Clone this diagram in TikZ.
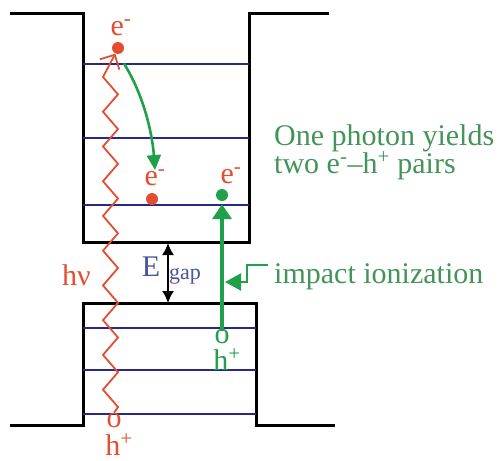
\documentclass[tikz,border=0pt]{standalone}
\usepackage{fontspec}
\setmainfont{Liberation Serif}
\usetikzlibrary{arrows.meta}
\definecolor{carrierred}{RGB}{228,78,48}
\definecolor{impactgreen}{RGB}{32,160,72}
\definecolor{labelgreen}{RGB}{66,148,88}
\definecolor{levelblue}{RGB}{40,40,135}
\definecolor{gapblue}{RGB}{75,85,150}

\begin{document}
\begin{tikzpicture}[
    x=1pt,y=-1pt,font=\fontsize{30}{34}\selectfont,
    edge/.style={line width=3pt,line join=miter},
    level/.style={levelblue,line width=2pt},
    dot/.style={circle,inner sep=0pt,minimum size=12pt},
    tag/.style={anchor=base,inner sep=0pt},
    photon/.style={carrierred,line width=1.8pt,line join=miter,
        -{Straight Barb[length=11pt,width=22pt,line width=1.8pt]}},
    relax/.style={impactgreen,line width=2.6pt,
        -{Triangle[length=15pt,width=14pt]}},
    ionize/.style={impactgreen,line width=4pt,
        -{Triangle[length=15pt,width=19pt]}},
    pointer/.style={impactgreen,line width=2.2pt,line join=miter,
        -{Triangle[length=16pt,width=17pt]}},
    gap/.style={line width=1.6pt,{Latex[length=12pt,width=12pt]}-{Latex[length=12pt,width=12pt]}}
]
    \useasboundingbox (0,0) rectangle (502,460);

    % band edges
    \draw[edge] (10,14) -- (83,14) -- (83,242) -- (249,242) -- (249,14) -- (329,14);
    \draw[edge] (10,425) -- (83,425) -- (83,303) -- (256,303) -- (256,425) -- (335,425);

    % levels in conduction and valence band
    \foreach \y in {64,138,205}
        \draw[level] (83,\y) -- (249,\y);
    \foreach \y in {328,370,414}
        \draw[level] (83,\y) -- (256,\y);

    % carriers
    \node[dot,fill=carrierred] (dottop) at (118,48) {};
    \node[dot,fill=carrierred] (dotmid) at (152,199) {};
    \node[dot,fill=impactgreen] (dotright) at (222,195) {};
    \node[tag,text=carrierred] (etop) at (121,35) {e\textsuperscript{-}};
    \node[tag,text=carrierred] (emid) at (155,185) {e\textsuperscript{-}};
    \node[tag,text=carrierred] (eright) at (231,183) {e\textsuperscript{-}};
    \node[tag,text=carrierred] (holeleft) at (114,427) {o};
    \node[tag,text=carrierred] (hleft) at (119,455) {h\textsuperscript{+}};
    \node[tag,text=impactgreen] (holeright) at (222,343) {o};
    \node[tag,text=impactgreen] (hright) at (227,370) {h\textsuperscript{+}};

    % labels
    \node[tag,anchor=base west,text=carrierred] (nu) at (62,285) {hν};
    \node[tag,text=gapblue] (egap) at (151,276) {E};
    \node[tag,anchor=base west,text=gapblue,font=\fontsize{22}{24}\selectfont]
        (gaptext) at (169,279) {gap};
    \node[tag,anchor=base west,text=labelgreen] (yields) at (274,145) {One photon yields};
    \node[tag,anchor=base west,text=labelgreen] (pairs) at (274,173)
        {two e\textsuperscript{-}--h\textsuperscript{+} pairs};
    \node[tag,anchor=base west,text=labelgreen] (impact) at (274,283) {impact ionization};
    \coordinate (kink) at (268,265);
    \coordinate (hit) at (225,282);

    % photon absorbed deep in the valence band
    \draw[photon] (holeleft.north)
        \foreach \k in {0,...,19} {-- ({mod(\k,2)==1 ? 103 : 118},{407-330/19*\k})}
        -- (dottop.-115);

    % hot electron relaxes, impact ionization
    \draw[relax,shorten <=11pt] (dottop.south) .. controls (142,92) and (152,130) .. (emid.north);
    \draw[ionize,shorten <=-2pt,shorten >=3pt] (holeright.north) -- (dotright.south);
    \draw[pointer] (kink) -- (247,265) -- (247,282) -- (hit);

    % energy gap
    \draw[gap] (168,243) -- (168,303);
\end{tikzpicture}
\end{document}
